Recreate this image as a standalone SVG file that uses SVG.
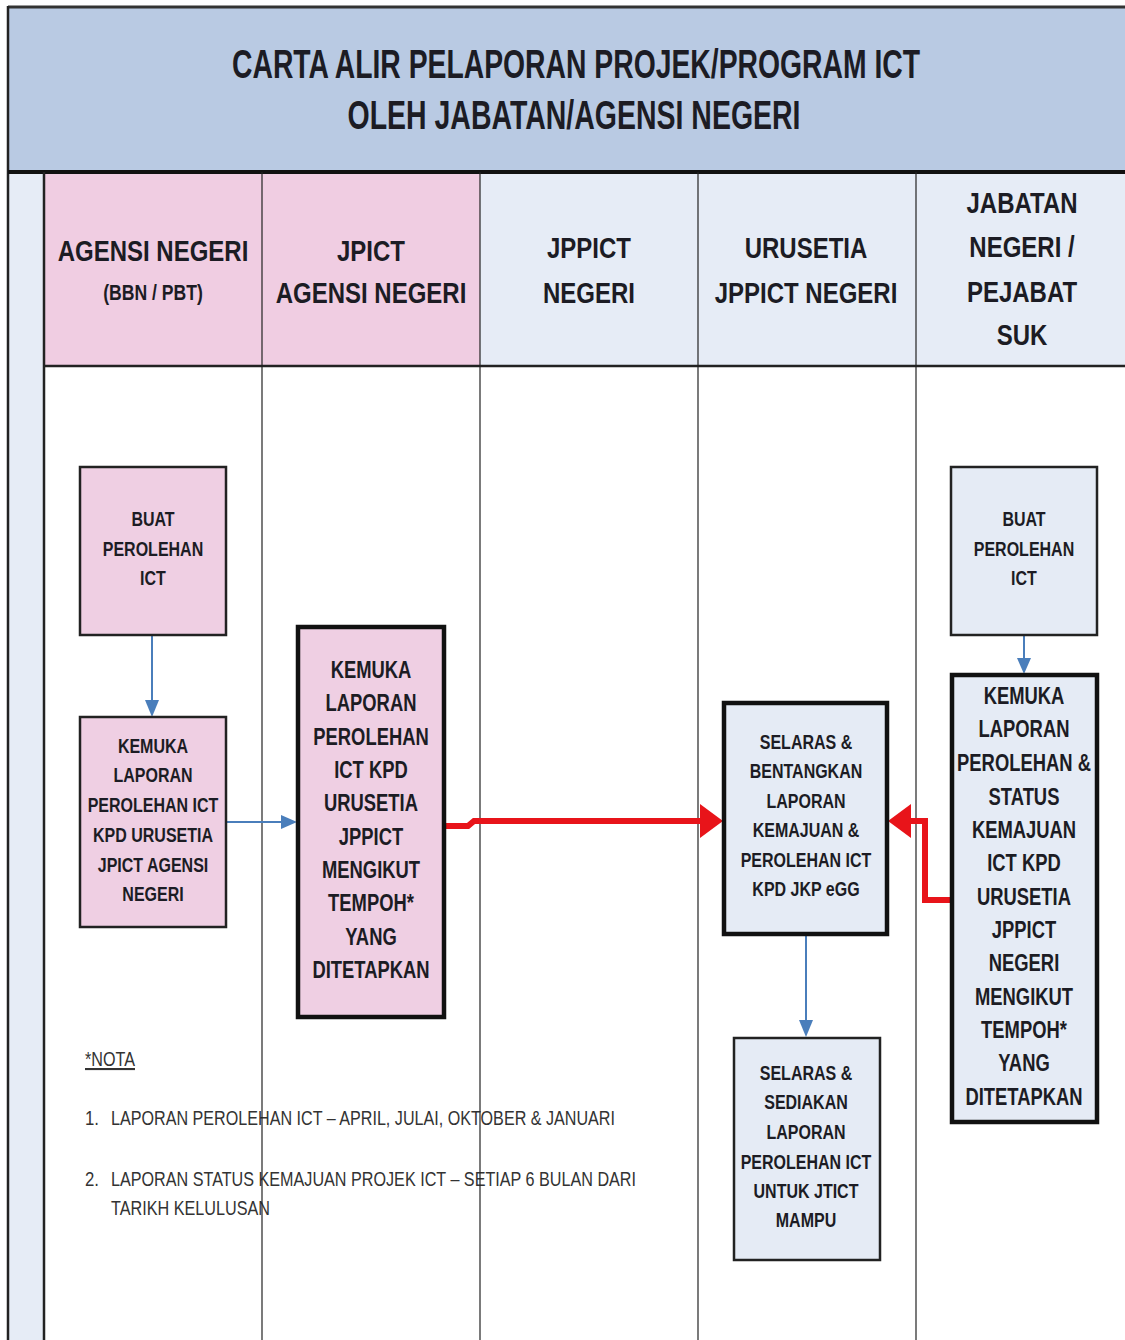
<svg xmlns="http://www.w3.org/2000/svg" width="1125" height="1340" viewBox="0 0 1125 1340">
<style>
.t{font-family:"Liberation Sans",Arial,sans-serif;font-weight:bold;fill:#1c1c24;text-anchor:middle}
.h{font-size:30px}
.hs{font-size:22px}
.n{font-size:20px}
.nb{font-size:23px}
.note{font-family:"Liberation Sans",Arial,sans-serif;font-size:21px;fill:#333}
.pink{fill:#efcfe3;stroke:#222;stroke-width:2.5}
.blue{fill:#e5ebf5;stroke:#222;stroke-width:2.5}
.thick{stroke:#111;stroke-width:4.5}
.bl{stroke:#4a7ebb;stroke-width:2;fill:none}
.bh{fill:#4a7ebb}
.rl{stroke:#e8141a;stroke-width:6;fill:none;stroke-linejoin:miter}
.rh{fill:#e8141a}
.lane{stroke:#222;stroke-width:1.2}
</style>
<rect width="1125" height="1340" fill="#ffffff"/>
<g id="background">
<rect x="8" y="7" width="1117" height="165" fill="#b9cae3"/>
<rect x="8" y="172" width="36" height="1168" fill="#e6ecf6"/>
<rect x="44" y="174" width="218" height="192" fill="#f0cde2"/>
<rect x="262" y="174" width="218" height="192" fill="#f0cde2"/>
<rect x="480" y="174" width="218" height="192" fill="#e6ecf6"/>
<rect x="698" y="174" width="218" height="192" fill="#e6ecf6"/>
<rect x="916" y="174" width="209" height="192" fill="#e6ecf6"/>
</g>
<g id="title">
<text class="t" x="576" y="78" font-size="40" textLength="688" lengthAdjust="spacingAndGlyphs">CARTA ALIR PELAPORAN PROJEK/PROGRAM ICT</text>
<text class="t" x="574" y="129" font-size="40" textLength="453" lengthAdjust="spacingAndGlyphs">OLEH JABATAN/AGENSI NEGERI</text>
</g>
<g id="notes">
<text class="note" x="85" y="1066" font-size="20" textLength="50" lengthAdjust="spacingAndGlyphs" text-decoration="underline">*NOTA</text>
<text class="note" x="85" y="1125" textLength="14" lengthAdjust="spacingAndGlyphs">1.</text>
<text class="note" x="111" y="1125" textLength="504" lengthAdjust="spacingAndGlyphs">LAPORAN PEROLEHAN ICT – APRIL, JULAI, OKTOBER &amp; JANUARI</text>
<text class="note" x="85" y="1186" textLength="14" lengthAdjust="spacingAndGlyphs">2.</text>
<text class="note" x="111" y="1186" textLength="525" lengthAdjust="spacingAndGlyphs">LAPORAN STATUS KEMAJUAN PROJEK ICT – SETIAP 6 BULAN DARI</text>
<text class="note" x="111" y="1215" textLength="159" lengthAdjust="spacingAndGlyphs">TARIKH KELULUSAN</text>
</g>
<g id="lanes">
<line x1="8" y1="7" x2="1125" y2="7" stroke="#333" stroke-width="3"/>
<line x1="8" y1="6" x2="8" y2="1340" stroke="#222" stroke-width="2.5"/>
<line x1="8" y1="172" x2="1125" y2="172" stroke="#111" stroke-width="4"/>
<line x1="44" y1="174" x2="1125" y2="366" stroke="none"/>
<line x1="44" y1="366" x2="1125" y2="366" stroke="#222" stroke-width="2.5"/>
<line x1="44" y1="172" x2="44" y2="1340" stroke="#222" stroke-width="2.5"/>
<line class="lane" x1="262" y1="172" x2="262" y2="366" stroke-width="2.2"/>
<line class="lane" x1="480" y1="172" x2="480" y2="366" stroke-width="2.2"/>
<line class="lane" x1="698" y1="172" x2="698" y2="366" stroke-width="2.2"/>
<line class="lane" x1="916" y1="172" x2="916" y2="366" stroke-width="2.2"/>
<line class="lane" x1="262" y1="366" x2="262" y2="1340"/>
<line class="lane" x1="480" y1="366" x2="480" y2="1340"/>
<line class="lane" x1="698" y1="366" x2="698" y2="1340"/>
<line class="lane" x1="916" y1="366" x2="916" y2="1340"/>
</g>
<g id="headers">
<g transform="translate(153,0) scale(0.8,1)">
<text class="t h" x="0" y="261">AGENSI NEGERI</text>
<text class="t hs" x="0" y="300" font-weight="normal">(BBN / PBT)</text>
</g>
<g transform="translate(371,0) scale(0.8,1)">
<text class="t h" x="0" y="261">JPICT</text>
<text class="t h" x="0" y="303">AGENSI NEGERI</text>
</g>
<g transform="translate(589,0) scale(0.8,1)">
<text class="t h" x="0" y="258">JPPICT</text>
<text class="t h" x="0" y="303">NEGERI</text>
</g>
<g transform="translate(806,0) scale(0.8,1)">
<text class="t h" x="0" y="258">URUSETIA</text>
<text class="t h" x="0" y="303">JPPICT NEGERI</text>
</g>
<g transform="translate(1022,0) scale(0.8,1)">
<text class="t h" x="0" y="213">JABATAN</text>
<text class="t h" x="0" y="257">NEGERI /</text>
<text class="t h" x="0" y="302">PEJABAT</text>
<text class="t h" x="0" y="345">SUK</text>
</g>
</g>
<g id="connectors">
<line class="bl" x1="152" y1="635" x2="152" y2="703"/>
<polygon class="bh" points="145,700 152,717 159,700"/>
<line class="bl" x1="226" y1="822" x2="284" y2="822"/>
<polygon class="bh" points="281,815 297,822 281,829"/>
<line class="bl" x1="806" y1="935" x2="806" y2="1022"/>
<polygon class="bh" points="799,1020 806,1037 813,1020"/>
<line class="bl" x1="1024" y1="635" x2="1024" y2="660"/>
<polygon class="bh" points="1017,658 1024,674 1031,658"/>
<path class="rl" d="M445,826 L468,826 L474,821 L703,821"/>
<polygon class="rh" points="700,804 723,821 700,838"/>
<path class="rl" d="M951,900 L925,900 L925,821 L908,821"/>
<polygon class="rh" points="911,804 888,821 911,838"/>
</g>
<g id="node-agensi-buat">
<rect class="pink" x="80" y="467" width="146" height="168"/>
<g transform="translate(153,0) scale(0.8,1)">
<text class="t n" x="0" y="526">BUAT</text>
<text class="t n" x="0" y="556">PEROLEHAN</text>
<text class="t n" x="0" y="585">ICT</text>
</g>
</g>
<g id="node-agensi-kemuka">
<rect class="pink" x="80" y="717" width="146" height="210"/>
<g transform="translate(153,0) scale(0.8,1)">
<text class="t n" x="0" y="753">KEMUKA</text>
<text class="t n" x="0" y="782">LAPORAN</text>
<text class="t n" x="0" y="812">PEROLEHAN ICT</text>
<text class="t n" x="0" y="842">KPD URUSETIA</text>
<text class="t n" x="0" y="872">JPICT AGENSI</text>
<text class="t n" x="0" y="901">NEGERI</text>
</g>
</g>
<g id="node-jpict-kemuka">
<rect class="pink thick" x="298" y="627" width="146" height="390"/>
<g transform="translate(371,0) scale(0.8,1)">
<text class="t nb" x="0" y="678">KEMUKA</text>
<text class="t nb" x="0" y="711">LAPORAN</text>
<text class="t nb" x="0" y="745">PEROLEHAN</text>
<text class="t nb" x="0" y="778">ICT KPD</text>
<text class="t nb" x="0" y="811">URUSETIA</text>
<text class="t nb" x="0" y="845">JPPICT</text>
<text class="t nb" x="0" y="878">MENGIKUT</text>
<text class="t nb" x="0" y="911">TEMPOH*</text>
<text class="t nb" x="0" y="945">YANG</text>
<text class="t nb" x="0" y="978">DITETAPKAN</text>
</g>
</g>
<g id="node-urusetia-bentang">
<rect class="blue thick" x="724" y="703" width="163" height="231"/>
<g transform="translate(806,0) scale(0.8,1)">
<text class="t n" x="0" y="749">SELARAS &amp;</text>
<text class="t n" x="0" y="778">BENTANGKAN</text>
<text class="t n" x="0" y="808">LAPORAN</text>
<text class="t n" x="0" y="837">KEMAJUAN &amp;</text>
<text class="t n" x="0" y="867">PEROLEHAN ICT</text>
<text class="t n" x="0" y="896">KPD JKP eGG</text>
</g>
</g>
<g id="node-urusetia-sedia">
<rect class="blue" x="734" y="1038" width="146" height="222"/>
<g transform="translate(806,0) scale(0.8,1)">
<text class="t n" x="0" y="1080">SELARAS &amp;</text>
<text class="t n" x="0" y="1109">SEDIAKAN</text>
<text class="t n" x="0" y="1139">LAPORAN</text>
<text class="t n" x="0" y="1169">PEROLEHAN ICT</text>
<text class="t n" x="0" y="1198">UNTUK JTICT</text>
<text class="t n" x="0" y="1227">MAMPU</text>
</g>
</g>
<g id="node-jabatan-buat">
<rect class="blue" x="951" y="467" width="146" height="168"/>
<g transform="translate(1024,0) scale(0.8,1)">
<text class="t n" x="0" y="526">BUAT</text>
<text class="t n" x="0" y="556">PEROLEHAN</text>
<text class="t n" x="0" y="585">ICT</text>
</g>
</g>
<g id="node-jabatan-kemuka">
<rect class="blue thick" x="952" y="675" width="145" height="447"/>
<g transform="translate(1024,0) scale(0.8,1)">
<text class="t nb" x="0" y="704">KEMUKA</text>
<text class="t nb" x="0" y="737">LAPORAN</text>
<text class="t nb" x="0" y="771">PEROLEHAN &amp;</text>
<text class="t nb" x="0" y="805">STATUS</text>
<text class="t nb" x="0" y="838">KEMAJUAN</text>
<text class="t nb" x="0" y="871">ICT KPD</text>
<text class="t nb" x="0" y="905">URUSETIA</text>
<text class="t nb" x="0" y="938">JPPICT</text>
<text class="t nb" x="0" y="971">NEGERI</text>
<text class="t nb" x="0" y="1005">MENGIKUT</text>
<text class="t nb" x="0" y="1038">TEMPOH*</text>
<text class="t nb" x="0" y="1071">YANG</text>
<text class="t nb" x="0" y="1105">DITETAPKAN</text>
</g>
</g>
</svg>
